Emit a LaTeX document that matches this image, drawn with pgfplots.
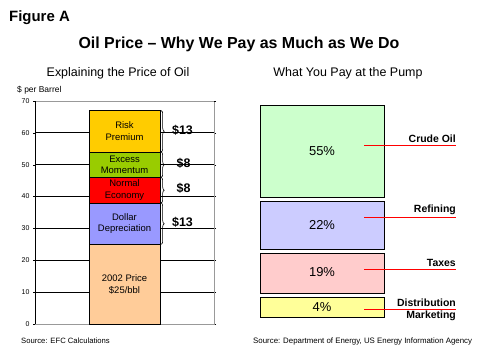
\documentclass[border=0pt]{standalone}
\usepackage{fontspec}
\setmainfont{Liberation Sans}
\usepackage{pgfplots}
\pgfplotsset{compat=1.18}
\usetikzlibrary{decorations.pathreplacing}
\definecolor{riskc}{HTML}{FFCC00}
\definecolor{excessc}{HTML}{99CC00}
\definecolor{normalc}{HTML}{FF0000}
\definecolor{dollarc}{HTML}{9999FF}
\definecolor{basec}{HTML}{FFCC99}
\definecolor{crudec}{HTML}{CCFFCC}
\definecolor{refc}{HTML}{CCCCFF}
\definecolor{taxc}{HTML}{FFCCCC}
\definecolor{distc}{HTML}{FFFF99}
\tikzset{
  seg/.style={align=center, font=\fontsize{9.5}{11.5}\selectfont},
  dol/.style={anchor=west, font=\bfseries\fontsize{12.5}{14}\selectfont, inner sep=0},
  brc/.style={line width=0.6pt, decorate, decoration={brace, amplitude=3bp}},
  pct/.style={font=\fontsize{13}{15}\selectfont},
  cat/.style={font=\bfseries\fontsize{10.5}{12}\selectfont, inner sep=0},
}
\pgfplotsset{leftgeom/.style={at={(35bp,36bp)}, anchor=south west, scale only axis,
  width=179bp, height=223bp, xmin=0, xmax=1, ymin=0, ymax=70, clip=false}}
\begin{document}
\begin{tikzpicture}[x=1bp,y=1bp]
\path (0,0) rectangle (480,360);
% titles
\node[anchor=base west, font=\bfseries\fontsize{15}{17}\selectfont, inner sep=0] at (9,339) {Figure A};
\node[anchor=base, font=\bfseries\fontsize{16}{18}\selectfont, inner sep=0] at (239,312) {Oil Price -- Why We Pay as Much as We Do};
\node[anchor=base, font=\fontsize{12.5}{14}\selectfont, inner sep=0] at (118,284) {Explaining the Price of Oil};
\node[anchor=base, font=\fontsize{12.5}{14}\selectfont, inner sep=0] at (348,284) {What You Pay at the Pump};
\node[anchor=base west, font=\fontsize{8.5}{9}\selectfont, inner sep=0] at (17,268) {\$ per Barrel};
\node[anchor=base west, font=\fontsize{7.7}{9}\selectfont, inner sep=0] at (21,17) {Source: EFC Calculations};
\node[anchor=base west, font=\fontsize{7.9}{9}\selectfont, inner sep=0] at (253,17) {Source: Department of Energy, US Energy Information Agency};

\begin{axis}[leftgeom,
  ytick={0,10,...,60}, extra y ticks={70}, extra y tick style={grid=none},
  ymajorgrids, grid style={black, line width=0.8pt},
  xtick=\empty, axis line style={gray!80}, tick style={black},
  tick align=outside, major tick length=2bp,
  ybar stacked, bar width=71bp,
  yticklabel style={font=\fontsize{7}{8}\selectfont},
  /pgf/number format/assume math mode=true]
\addplot[fill=basec, draw=black, line width=0.8pt] coordinates {(0.5,25)};
\addplot[fill=dollarc, draw=black, line width=0.8pt] coordinates {(0.5,13)};
\addplot[fill=normalc, draw=black, line width=0.8pt] coordinates {(0.5,8)};
\addplot[fill=excessc, draw=black, line width=0.8pt] coordinates {(0.5,8)};
\addplot[fill=riskc, draw=black, line width=0.8pt] coordinates {(0.5,13)};
\draw[black, line width=0.8pt] (rel axis cs:0,0) -- (rel axis cs:0,1);
\end{axis}

\begin{axis}[leftgeom, hide axis]
\node[seg] at (axis cs:0.5,60.5) {Risk\\Premium};
\node[seg] at (axis cs:0.5,50) {Excess\\Momentum};
\node[seg] at (axis cs:0.5,42) {Normal\\Economy};
\node[seg] at (axis cs:0.5,31.5) {Dollar\\Depreciation};
\node[seg] at (axis cs:0.5,12.5) {2002 Price\\\$25/bbl};
\draw[brc] (axis cs:0.705,67) -- (axis cs:0.705,54);
\draw[brc] (axis cs:0.705,54) -- (axis cs:0.705,46);
\draw[brc] (axis cs:0.705,46) -- (axis cs:0.705,38);
\draw[brc] (axis cs:0.705,38) -- (axis cs:0.705,25);
\node[dol] at (axis cs:0.765,60.8) {\$13};
\node[dol] at (axis cs:0.79,50.3) {\$8};
\node[dol] at (axis cs:0.79,42.5) {\$8};
\node[dol] at (axis cs:0.765,32) {\$13};
\end{axis}

\begin{axis}[at={(240bp,0bp)}, anchor=south west, scale only axis,
  width=240bp, height=360bp, xmin=240, xmax=480, ymin=0, ymax=360,
  hide axis, clip=false]
\addplot[fill=crudec, draw=black, line width=0.8pt] coordinates {(260,163)(384,163)(384,255)(260,255)} -- cycle;
\addplot[fill=refc, draw=black, line width=0.8pt] coordinates {(260,111)(384,111)(384,159)(260,159)} -- cycle;
\addplot[fill=taxc, draw=black, line width=0.8pt] coordinates {(260,67)(384,67)(384,107)(260,107)} -- cycle;
\addplot[fill=distc, draw=black, line width=0.8pt] coordinates {(260,43)(384,43)(384,63)(260,63)} -- cycle;
\addplot[red, line width=0.8pt] coordinates {(364,215)(456,215)};
\addplot[red, line width=0.8pt] coordinates {(364,143)(456,143)};
\addplot[red, line width=0.8pt] coordinates {(364,91)(456,91)};
\addplot[red, line width=0.8pt] coordinates {(364,51)(456,51)};
\node[pct] at (axis cs:322,209) {55\%};
\node[pct] at (axis cs:322,135) {22\%};
\node[pct] at (axis cs:322,88) {19\%};
\node[pct] at (axis cs:322,53) {4\%};
\node[cat, anchor=south east] at (axis cs:456,217) {Crude Oil};
\node[cat, anchor=south east] at (axis cs:456,145) {Refining};
\node[cat, anchor=south east] at (axis cs:456,93) {Taxes};
\node[cat, anchor=south east] at (axis cs:456,53) {Distribution};
\node[cat, anchor=north east] at (axis cs:456,49) {Marketing};
\end{axis}
\end{tikzpicture}
\end{document}
